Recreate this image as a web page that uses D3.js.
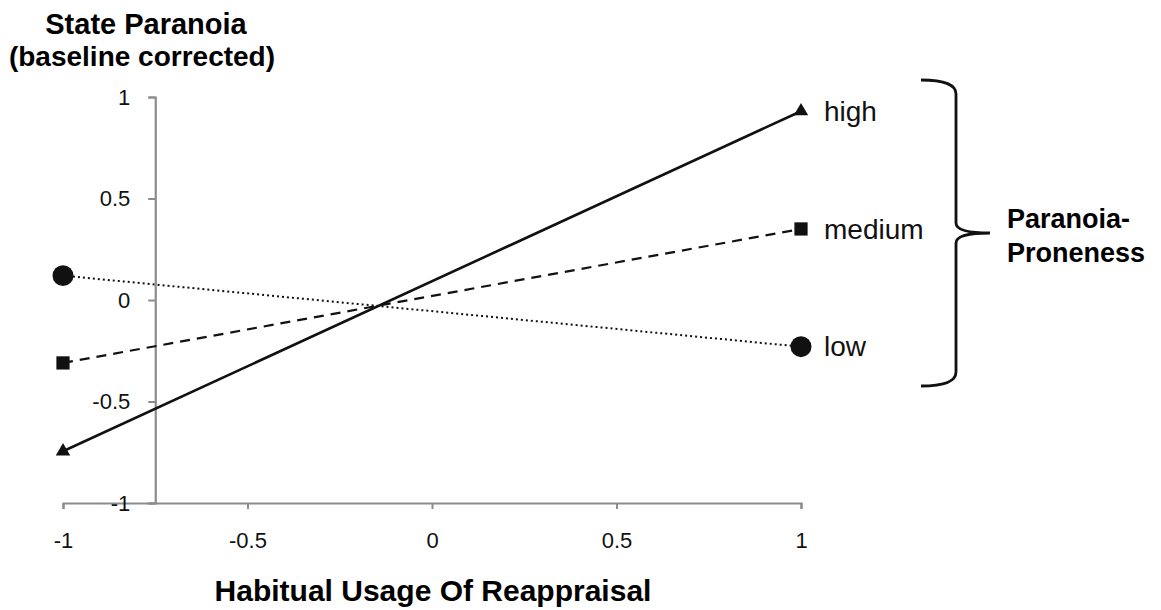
<!DOCTYPE html>
<html>
<head>
<meta charset="utf-8">
<script src="https://cdn.jsdelivr.net/npm/d3@7"></script>
<style>
  body { margin: 0; background: #fff; }
  text { font-family: "Liberation Sans", Arial, sans-serif; }
</style>
</head>
<body>
<svg></svg>
<script>
const xTicks = [-1, -0.5, 0, 0.5, 1]
const yTicks = [-1, -0.5, 0, 0.5, 1]
const groups = ['high', 'medium', 'low']
const xValues = [-1, 1]
// paranoia-proneness groups, values at -1 and +1 reappraisal
const highValues = [-0.745, 0.93]
const mediumValues = [-0.31, 0.35]
const lowValues = [0.12, -0.23]

let width = 1161
let height = 610

let series = [
  { name: groups[0], values: highValues, dash: null, w: 2.6, symbol: d3.symbolTriangle, size: 90 },
  { name: groups[1], values: mediumValues, dash: '10,7', w: 2.2, symbol: d3.symbolSquare, size: 175 },
  { name: groups[2], values: lowValues, dash: '2,3', w: 2, symbol: d3.symbolCircle, size: 345 }
]

let xScale = d3.scaleLinear().domain([-1, 1]).range([63, 801])
let yScale = d3.scaleLinear().domain([-1, 1]).range([503, 97])

// plain hyphen for negatives, like the original
let fmt = d => d3.format('~g')(d).replace('\u2212', '-')

let svg = d3.select('svg')
  .attr('width', width)
  .attr('height', height)

// x axis
let xAxis = d3.axisBottom(xScale)
  .tickValues(xTicks)
  .tickFormat(fmt)
  .tickSize(6)
  .tickSizeOuter(6)
  .tickPadding(23)

let gx = svg.append('g')
  .attr('transform', `translate(0, ${yScale(-1)})`)
  .call(xAxis)
gx.select('.domain').attr('stroke', '#8c8c8c').attr('stroke-width', 2.2)
gx.selectAll('.tick line').attr('stroke', '#8c8c8c').attr('stroke-width', 2)
gx.selectAll('.tick text')
  .style('font-size', '22px')
  .attr('fill', '#111')

// y axis crosses at x = -0.75
let yAxis = d3.axisLeft(yScale)
  .tickValues(yTicks)
  .tickFormat(fmt)
  .tickSize(7)
  .tickSizeOuter(7)
  .tickPadding(18)

let gy = svg.append('g')
  .attr('transform', `translate(${xScale(-0.75)}, 0)`)
  .call(yAxis)
gy.select('.domain').attr('stroke', '#8c8c8c').attr('stroke-width', 2.2)
gy.selectAll('.tick line').attr('stroke', '#8c8c8c').attr('stroke-width', 2)
gy.selectAll('.tick text')
  .style('font-size', '22px')
  .attr('fill', '#111')

// lines
let line = d3.line()
  .x((d, i) => xScale(xValues[i]))
  .y(d => yScale(d))

svg.selectAll('.series')
  .data(series)
  .enter()
  .append('path')
    .attr('d', d => line(d.values))
    .attr('fill', 'none')
    .attr('stroke', '#111')
    .attr('stroke-width', d => d.w)
    .attr('stroke-dasharray', d => d.dash)

// markers + end labels
series.forEach(s => {
  svg.selectAll(null)
    .data(s.values)
    .enter()
    .append('path')
      .attr('transform', (d, i) => `translate(${xScale(xValues[i])}, ${yScale(d)})`)
      .attr('d', d3.symbol().type(s.symbol).size(s.size))
      .attr('fill', '#111')

  svg.append('text')
    .attr('x', xScale(1) + 23)
    .attr('y', yScale(s.values[1]))
    .attr('dy', '0.35em')
    .style('font-size', '28px')
    .attr('fill', '#111')
    .text(s.name)
})

// brace
let bx = 921, bTop = 80, bBottom = 386, bMid = 233
svg.append('path')
  .attr('d', `M${bx},${bTop} Q${bx + 35},${bTop} ${bx + 35},${bTop + 14}
    L${bx + 35},${bMid - 10} Q${bx + 35},${bMid} ${bx + 69},${bMid}
    Q${bx + 35},${bMid} ${bx + 35},${bMid + 10}
    L${bx + 35},${bBottom - 14} Q${bx + 35},${bBottom} ${bx},${bBottom}`)
  .attr('fill', 'none')
  .attr('stroke', '#111')
  .attr('stroke-width', 2.8)

svg.append('text')
  .attr('x', 1007)
  .attr('y', 228)
  .style('font-size', '27px')
  .style('font-weight', 'bold')
  .text('Paranoia-')
svg.append('text')
  .attr('x', 1007)
  .attr('y', 262)
  .style('font-size', '27px')
  .style('font-weight', 'bold')
  .text('Proneness')

// y-axis title
svg.append('text')
  .attr('x', 146)
  .attr('y', 34)
  .style('text-anchor', 'middle')
  .style('font-size', '29px')
  .style('font-weight', 'bold')
  .text('State Paranoia')
svg.append('text')
  .attr('x', 142)
  .attr('y', 66)
  .style('text-anchor', 'middle')
  .style('font-size', '28px')
  .style('font-weight', 'bold')
  .text('(baseline corrected)')

// x-axis title
svg.append('text')
  .attr('x', 433)
  .attr('y', 601)
  .style('text-anchor', 'middle')
  .style('font-size', '30px')
  .style('font-weight', 'bold')
  .text('Habitual Usage Of Reappraisal')
</script>
</body>
</html>
